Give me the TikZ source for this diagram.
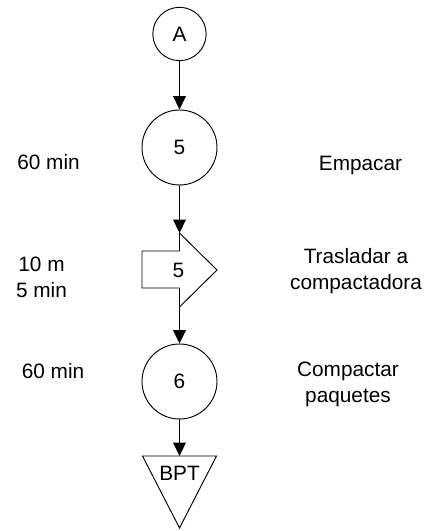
\documentclass[tikz,border=0pt]{standalone}
\usepackage{fontspec}
\setmainfont{Liberation Sans}
\usetikzlibrary{arrows.meta}

\begin{document}
\begin{tikzpicture}[x=0.75pt,y=0.75pt,
    font=\fontsize{15.6}{19.5}\selectfont, line width=0.7pt,
    oper/.style={circle, draw, inner sep=0pt, minimum size=56.25pt},
    flow/.style={-{Triangle[length=10pt,width=9.5pt]}},
    note/.style={align=center}]
  \useasboundingbox (0,0) rectangle (431,531);

  % conector, operaciones
  \node[oper, minimum size=40pt] (conA) at (179.5,497) {A};
  \node[oper] (op5) at (179.5,383.5) {5};
  \node[oper] (op6) at (179.5,149.5) {6};

  % transporte
  \node (tr5) at (178.5,261) {5};
  \coordinate (trin) at (179.5,298);
  \coordinate (trout) at (179.5,224);
  \draw (trin) -- (217,261) -- (trout) -- (179.5,243) -- (142,243)
    -- (142,280) -- (179.5,280) -- cycle;

  % almacen
  \coordinate (almin) at (179.5,75);
  \draw (142.5,75) -- (216.5,75) -- (179.5,3) -- cycle;
  \node (bpt) at (179.5,58) {BPT};

  \draw[flow] (conA) -- (op5);
  \draw[flow] (op5) -- (trin);
  \draw[flow] (trout) -- (op6);
  \draw[flow] (op6) -- (almin);

  % tiempos y distancias
  \node[note] (t5) at (48.5,369) {60 min};
  \node[note] (d5) at (41.5,253.5) {10 m\\5 min};
  \node[note] (t6) at (53,160) {60 min};

  % descripciones
  \node[note] (e5) at (360.5,365) {Empacar};
  \node[note] (e6) at (356,260.3) {Trasladar a\\compactadora};
  \node[note] (e7) at (348,146.3) {Compactar\\paquetes};
\end{tikzpicture}
\end{document}
